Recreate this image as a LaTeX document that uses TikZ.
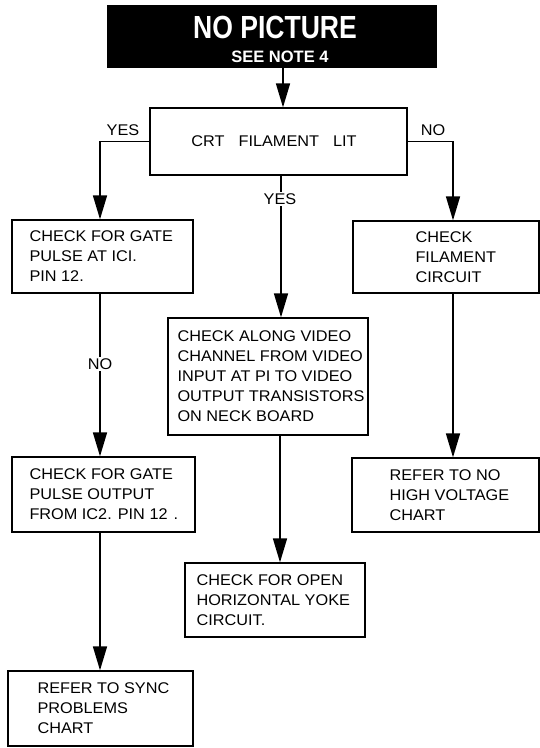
\documentclass[tikz,border=0pt]{standalone}
\usepackage{fontspec}
\usepackage{graphicx}
\setmainfont[FakeStretch=1.05]{Liberation Sans}
\newfontfamily\titlefont{Liberation Sans}
\usetikzlibrary{arrows.meta,calc}
\begin{document}
\begin{tikzpicture}[x=1pt,y=-1pt,
  box/.style={draw=black,line width=1.3pt,rectangle,inner sep=0pt},
  txt/.style={font=\fontsize{15.5}{20}\selectfont,align=left,inner sep=0pt,anchor=west},
  conn/.style={line width=1.6pt,-{Triangle[length=24pt,width=14pt]}},
  lbl/.style={font=\fontsize{15.5}{20}\selectfont,inner sep=1.5pt}]
\useasboundingbox[fill=white] (0,0) rectangle (540,748);

% title
\node[fill=black,minimum width=330pt,minimum height=63pt,inner sep=0pt] (title) at (272,36.5) {};
\node[anchor=base,text=white,inner sep=0pt,font=\titlefont\bfseries\fontsize{32}{32}\selectfont] (t1) at (275,38) {\scalebox{0.83}[1]{NO PICTURE}};
\node[anchor=base,text=white,inner sep=0pt,font=\titlefont\bfseries\fontsize{16.5}{16.5}\selectfont] (t2) at (280,62) {SEE NOTE 4};

% boxes
\node[box,minimum width=257pt,minimum height=67pt] (crt) at (278.5,141.5) {};
\node[box,minimum width=181pt,minimum height=73pt] (b1) at (102.5,256.5) {};
\node[box,minimum width=186pt,minimum height=72pt] (r1) at (446,257) {};
\node[box,minimum width=200pt,minimum height=117pt] (m1) at (268,376.5) {};
\node[box,minimum width=183pt,minimum height=75pt] (b2) at (103.5,494.5) {};
\node[box,minimum width=187pt,minimum height=74pt] (r2) at (445.5,495) {};
\node[box,minimum width=180pt,minimum height=74pt] (m2) at (275,600) {};
\node[box,minimum width=185pt,minimum height=75pt] (b3) at (100.5,708.5) {};

% texts
\node[txt,anchor=base] (crtT) at (274,146) {CRT\hspace{14pt}FILAMENT\hspace{14pt}LIT};
\node[txt] (b1T) at ([xshift=18pt]b1.west) {CHECK FOR GATE\\PULSE AT ICI.\\PIN 12.};
\node[txt] (r1T) at ([xshift=63pt]r1.west) {CHECK\\FILAMENT\\CIRCUIT};
\node[txt] (m1T) at ([xshift=10pt]m1.west) {CHECK ALONG VIDEO\\CHANNEL FROM VIDEO\\INPUT AT PI TO VIDEO\\OUTPUT TRANSISTORS\\ON NECK BOARD};
\node[txt] (b2T) at ([xshift=18pt]b2.west) {CHECK FOR GATE\\PULSE OUTPUT\\FROM IC2. PIN 12\hspace{6pt}.};
\node[txt] (r2T) at ([xshift=38pt]r2.west) {REFER TO NO\\HIGH VOLTAGE\\CHART};
\node[txt] (m2T) at ([xshift=12pt]m2.west) {CHECK FOR OPEN\\HORIZONTAL YOKE\\CIRCUIT.};
\node[txt] (b3T) at ([xshift=30pt]b3.west) {REFER TO SYNC\\PROBLEMS\\CHART};

% columns
\coordinate (cL) at (100,0);
\coordinate (cT) at (283,0);
\coordinate (cM) at (281,0);
\coordinate (cM2) at (280,0);
\coordinate (cR) at (453,0);

% connectors
\draw[conn] (title.south -| cT) -- (crt.north -| cT);
\draw[conn] (crt.west) -- (crt.west -| cL) -- (b1.north -| cL);
\draw[conn] (crt.east) -- (crt.east -| cR) -- (r1.north -| cR);
\draw[conn] (crt.south -| cM) -- (m1.north -| cM);
\draw[conn] (b1.south -| cL) -- (b2.north -| cL);
\draw[conn] (b2.south -| cL) -- (b3.north -| cL);
\draw[conn] (m1.south -| cM2) -- (m2.north -| cM2);
\draw[conn] (r1.south -| cR) -- (r2.north -| cR);

% labels
\node[lbl] (yesL) at (123,130) {YES};
\node[lbl] (noR) at (433,130) {NO};
\node[lbl,fill=white] (yesM) at (280,199) {YES};
\node[lbl,fill=white] (noL) at (100,364) {NO};
\end{tikzpicture}
\end{document}
